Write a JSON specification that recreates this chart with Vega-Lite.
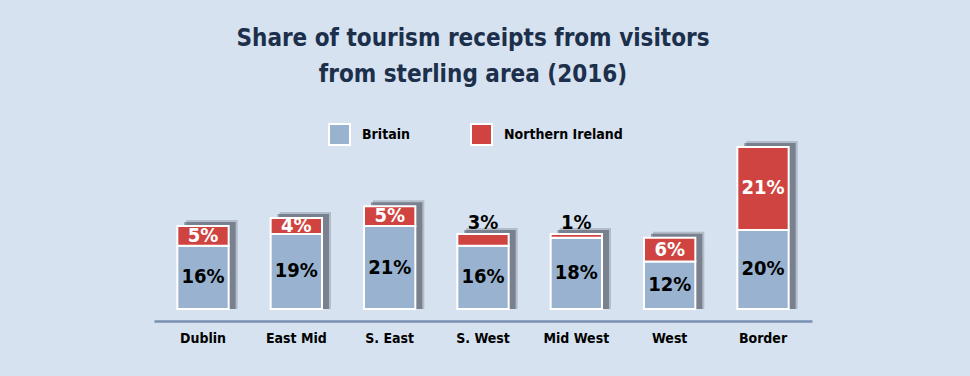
{
  "$schema": "https://vega.github.io/schema/vega-lite/v6.json",
  "width": 658,
  "height": 166,
  "autosize": "none",
  "padding": {"left": 154, "top": 143, "right": 158, "bottom": 67},
  "background": "#d6e2ef",
  "title": {
    "text": ["Share of tourism receipts from visitors", "from sterling area (2016)"],
    "font": "DejaVu Sans Condensed",
    "fontSize": 24,
    "fontWeight": "bold",
    "color": "#1c2f4b",
    "lineHeight": 36,
    "anchor": "middle",
    "dx": -10,
    "offset": 36
  },
  "data": {
    "values": [
      {"region": "Dublin", "series": "Britain", "value": 0.16},
      {"region": "Dublin", "series": "Northern Ireland", "value": 0.05},
      {"region": "East Mid", "series": "Britain", "value": 0.19},
      {"region": "East Mid", "series": "Northern Ireland", "value": 0.04},
      {"region": "S. East", "series": "Britain", "value": 0.21},
      {"region": "S. East", "series": "Northern Ireland", "value": 0.05},
      {"region": "S. West", "series": "Britain", "value": 0.16},
      {"region": "S. West", "series": "Northern Ireland", "value": 0.03},
      {"region": "Mid West", "series": "Britain", "value": 0.18},
      {"region": "Mid West", "series": "Northern Ireland", "value": 0.01},
      {"region": "West", "series": "Britain", "value": 0.12},
      {"region": "West", "series": "Northern Ireland", "value": 0.06},
      {"region": "Border", "series": "Britain", "value": 0.20},
      {"region": "Border", "series": "Northern Ireland", "value": 0.21}
    ]
  },
  "transform": [
    {"stack": "value", "groupby": ["region"], "sort": [{"field": "series", "order": "ascending"}], "as": ["v0", "v1"]}
  ],
  "encoding": {
    "x": {
      "field": "region",
      "type": "nominal",
      "sort": ["Dublin", "East Mid", "S. East", "S. West", "Mid West", "West", "Border"],
      "scale": {"paddingInner": 0.45, "paddingOuter": 0.25},
      "axis": {
        "title": null,
        "labelAngle": 0,
        "ticks": false,
        "offset": 12,
        "domainColor": "#7990b2",
        "domainWidth": 2.5,
        "labelFont": "DejaVu Sans Condensed",
        "labelFontSize": 14,
        "labelFontWeight": "bold",
        "labelColor": "#000000",
        "labelPadding": 10
      }
    }
  },
  "layer": [
    {
      "mark": {"type": "bar", "color": "#4a505c", "opacity": 0.25, "xOffset": 9, "yOffset": -6, "y2Offset": -4},
      "encoding": {
        "y": {"aggregate": "max", "field": "v1", "type": "quantitative", "scale": {"domain": [0, 0.42], "nice": false}, "axis": null}
      }
    },
    {
      "mark": {"type": "bar", "color": "#4a505c", "opacity": 0.55, "xOffset": 7, "yOffset": -4, "y2Offset": -6},
      "encoding": {
        "y": {"aggregate": "max", "field": "v1", "type": "quantitative", "scale": {"domain": [0, 0.42], "nice": false}, "axis": null}
      }
    },
    {
      "mark": {"type": "bar", "stroke": "white", "strokeWidth": 2},
      "encoding": {
        "y": {"field": "v0", "type": "quantitative", "scale": {"domain": [0, 0.42], "nice": false}, "axis": null},
        "y2": {"field": "v1"},
        "color": {
          "field": "series",
          "type": "nominal",
          "scale": {"domain": ["Britain", "Northern Ireland"], "range": ["#98b2cf", "#cf4440"]},
          "legend": {
            "title": null,
            "orient": "none",
            "legendX": 174,
            "legendY": -20,
            "direction": "horizontal",
            "padding": 0,
            "symbolType": "square",
            "symbolSize": 441,
            "symbolStrokeColor": "white",
            "symbolStrokeWidth": 2,
            "symbolOpacity": 1,
            "labelFont": "DejaVu Sans Condensed",
            "labelFontSize": 14,
            "labelFontWeight": "bold",
            "labelColor": "#000000",
            "labelOffset": 11,
            "columnPadding": 57
          }
        }
      }
    },
    {
      "transform": [
        {"filter": "datum.series == 'Britain' || datum.value >= 0.04"},
        {"fold": ["v0", "v1"], "as": ["k", "pos"]}
      ],
      "mark": {"type": "text", "font": "DejaVu Sans Condensed", "fontSize": 20, "fontWeight": "bold", "baseline": "middle"},
      "encoding": {
        "y": {"aggregate": "mean", "field": "pos", "type": "quantitative", "stack": null},
        "detail": {"field": "series"},
        "text": {"field": "value", "type": "quantitative", "format": ".0%"},
        "color": {"condition": {"test": "datum.series == 'Britain'", "value": "#000000"}, "value": "#ffffff"}
      }
    },
    {
      "transform": [
        {"filter": "datum.series == 'Northern Ireland' && datum.value < 0.04"}
      ],
      "mark": {"type": "text", "font": "DejaVu Sans Condensed", "fontSize": 20, "fontWeight": "bold", "baseline": "middle", "dy": -11, "color": "#000000"},
      "encoding": {
        "y": {"field": "v1", "type": "quantitative"},
        "text": {"field": "value", "type": "quantitative", "format": ".0%"}
      }
    }
  ],
  "config": {
    "view": {"stroke": null},
    "axis": {"grid": false}
  }
}
